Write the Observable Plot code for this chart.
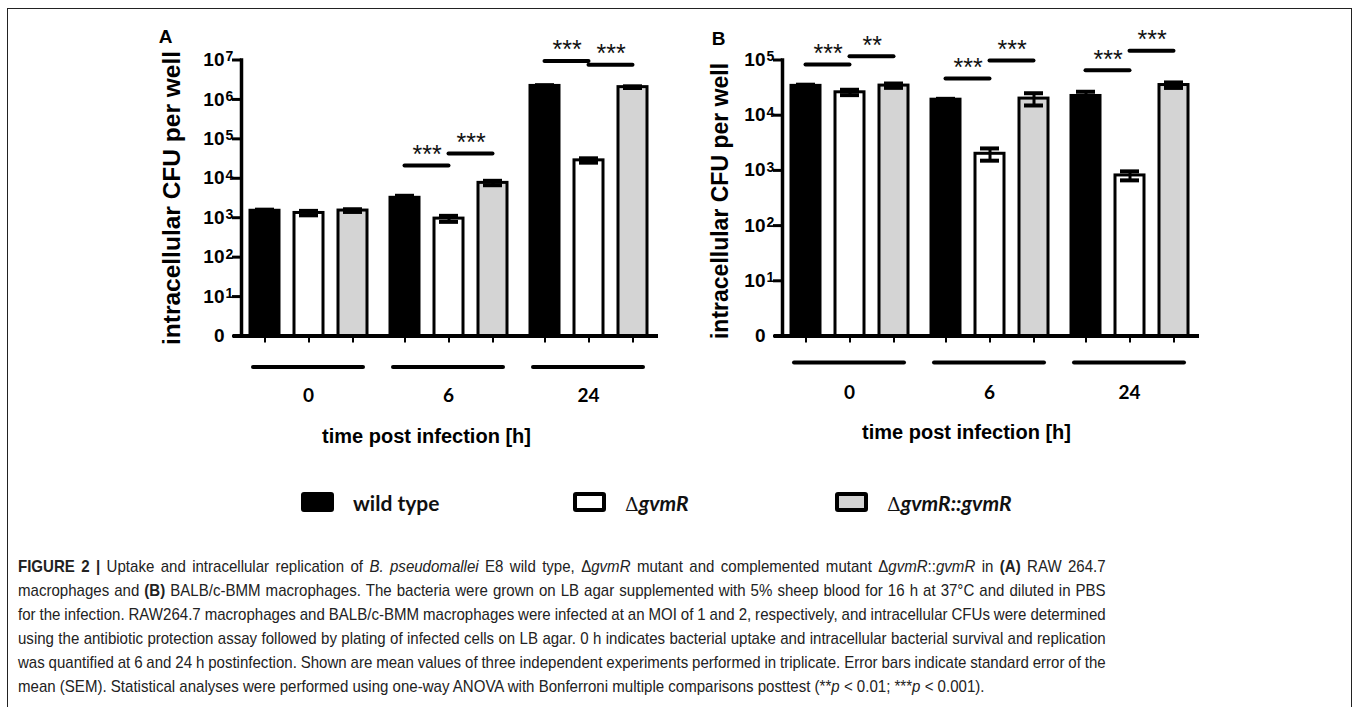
<!DOCTYPE html>
<html><head><meta charset="utf-8">
<script src="https://cdn.jsdelivr.net/npm/d3@7"></script>
<script src="https://cdn.jsdelivr.net/npm/@observablehq/plot@0.6"></script>
<style>
body{margin:0;background:#fff;}
#fig{position:relative;width:1357px;height:707px;overflow:hidden;background:#fff;}
#box{position:absolute;left:7px;top:8px;width:1343px;height:760px;border:1.5px solid #222;}
#plotA{position:absolute;left:120px;top:0;}
#plotB{position:absolute;left:690px;top:0;}
.leg{position:absolute;top:490px;height:24px;display:flex;align-items:center;font-family:Lato,"Open Sans",sans-serif;font-weight:700;font-size:21px;color:#111;white-space:nowrap;}
.sw{display:inline-block;width:25px;height:12px;border:4px solid #000;border-radius:3px;margin-right:19px;}
.leg .d{font-family:"DejaVu Serif",serif;font-weight:400;font-style:normal;font-size:19px;}
.leg i{font-style:italic;}
#caption{position:absolute;left:18px;top:555px;width:1229px;transform:scaleX(0.885);transform-origin:0 0;font-family:"Liberation Sans",Arial,sans-serif;font-size:17px;line-height:24px;color:#222;word-spacing:-1.5px;}
#caption div{text-align:justify;text-align-last:justify;white-space:nowrap;}
#caption div.last{text-align-last:left;word-spacing:0;}
</style></head>
<body>
<div id="fig">
  <div id="box"></div>
  <div id="plotA"></div>
  <div id="plotB"></div>
  <div id="legend"></div>
  <div id="caption">
    <div><b>FIGURE 2 |</b> Uptake and intracellular replication of <i>B. pseudomallei</i> E8 wild type, Δ<i>gvmR</i> mutant and complemented mutant Δ<i>gvmR</i>::<i>gvmR</i> in <b>(A)</b> RAW 264.7</div>
    <div>macrophages and <b>(B)</b> BALB/c-BMM macrophages. The bacteria were grown on LB agar supplemented with 5% sheep blood for 16 h at 37°C and diluted in PBS</div>
    <div>for the infection. RAW264.7 macrophages and BALB/c-BMM macrophages were infected at an MOI of 1 and 2, respectively, and intracellular CFUs were determined</div>
    <div>using the antibiotic protection assay followed by plating of infected cells on LB agar. 0 h indicates bacterial uptake and intracellular bacterial survival and replication</div>
    <div>was quantified at 6 and 24 h postinfection. Shown are mean values of three independent experiments performed in triplicate. Error bars indicate standard error of the</div>
    <div class="last">mean (SEM). Statistical analyses were performed using one-way ANOVA with Bonferroni multiple comparisons posttest (**<i>p</i> &lt; 0.01; ***<i>p</i> &lt; 0.001).</div>
  </div>
</div>
<script>
// ---------- data ----------
const times = ["0", "6", "24"];
const strains = ["wild type", "ΔgvmR", "ΔgvmR::gvmR"];
const fills = ["#000000", "#ffffff", "#d4d4d4"];

// Panel A: RAW 264.7 (means and SEM per time point 0, 6, 24 h)
const A_wt   = [1500, 3200, 2200000];
const A_mut  = [1320, 950, 28500];
const A_comp = [1520, 7650, 2050000];
const A_wt_sem   = [100, 400, 100000];
const A_mut_sem  = [170, 165, 3600];
const A_comp_sem = [120, 980, 100000];
const A_ticks = [1, 10, 1e2, 1e3, 1e4, 1e5, 1e6, 1e7];
const A_tickBase = ["0", "10", "10", "10", "10", "10", "10", "10"];
const A_tickExp  = ["", "1", "2", "3", "4", "5", "6", "7"];
const A_sigTime  = ["6", "6", "24", "24"];
const A_sigFrom  = [0, 1, 0, 1];
const A_sigY     = [21100, 42500, 9.5e6, 7.55e6];
const A_sigLabel = ["***", "***", "***", "***"];

// Panel B: BALB/c-BMM
const B_wt   = [34000, 19100, 22300];
const B_mut  = [26000, 2000, 810];
const B_comp = [34400, 20000, 35200];
const B_wt_sem   = [1700, 700, 4300];
const B_mut_sem  = [2900, 500, 150];
const B_comp_sem = [3100, 5000, 4000];
const B_ticks = [1, 10, 1e2, 1e3, 1e4, 1e5];
const B_tickBase = ["0", "10", "10", "10", "10", "10"];
const B_tickExp  = ["", "1", "2", "3", "4", "5"];
const B_sigTime  = ["0", "0", "6", "6", "24", "24"];
const B_sigFrom  = [0, 1, 0, 1, 0, 1];
const B_sigY     = [83000, 117000, 46300, 98000, 65000, 147000];
const B_sigLabel = ["***", "**", "***", "***", "***", "***"];

const xTitle = "time post infection [h]";
const yTitle = "intracellular CFU per well";
const legendLabels = [
  'wild type',
  '<span class="d">Δ</span><i>gvmR</i>',
  '<span class="d">Δ</span><i>gvmR::gvmR</i>'
];

// ---------- drawing ----------
const SANS = "Liberation Sans, Arial, sans-serif";
function panel(o) {
  const rows = [];
  times.forEach((t, ti) => strains.forEach((s, si) =>
    rows.push({time: t, strain: s, value: o.means[si][ti], sem: o.sems[si][ti]})));
  const sig = o.sigTime.map((t, i) => ({time: t, from: o.sigFrom[i], y: o.sigY[i], label: o.sigLabel[i]}));
  const idx = v => o.ticks.indexOf(v);
  return Plot.plot({
    width: o.width, height: 450,
    marginLeft: o.marginLeft, marginRight: o.marginRight, marginTop: 59.5, marginBottom: 114.5,
    style: {background: "transparent", overflow: "visible", color: "#000", fontFamily: SANS},
    fx: {domain: times, padding: 0, axis: null},
    x: {domain: strains, paddingInner: 0.345, paddingOuter: 0.249, axis: null},
    y: {type: "log", domain: [1, o.ymax], axis: null},
    color: {domain: strains, range: fills},
    marks: [
      Plot.barY(rows, {fx: "time", x: "strain", y1: 1, y2: "value", fill: "strain", stroke: "#000", strokeWidth: 3}),
      Plot.ruleX(rows, {fx: "time", x: "strain", y1: d => d.value - d.sem, y2: d => d.value + d.sem, stroke: "#000", strokeWidth: 3}),
      Plot.tickY(rows, {fx: "time", x: "strain", y: d => d.value + d.sem, stroke: "#000", strokeWidth: 4, insetLeft: 5, insetRight: 5}),
      Plot.tickY(rows, {fx: "time", x: "strain", y: d => d.value - d.sem, stroke: "#000", strokeWidth: 4, insetLeft: 5, insetRight: 5}),
      Plot.ruleY([1], {stroke: "#000", strokeWidth: 4, insetLeft: -5}),
      Plot.axisX({tickSize: 7, strokeWidth: 2, tickFormat: () => "", label: null}),
      Plot.frame({anchor: "left", facetAnchor: "left", stroke: "#000", strokeWidth: 3.5, dx: 3}),
      Plot.axisY({ticks: o.ticks, tickFormat: v => o.tickBase[idx(v)], tickSize: 9, tickPadding: 8, strokeWidth: 3,
                  dx: 3, fontSize: 19, fontWeight: "bold", fontFamily: SANS, label: null}),
      Plot.axisY({ticks: o.ticks, tickFormat: v => o.tickExp[idx(v)], tickSize: 0, tickPadding: 16, textAnchor: "start",
                  dx: 3, dy: -3, fontSize: 14, fontWeight: "bold", fontFamily: SANS, label: null}),
      // significance brackets
      Plot.ruleY(sig, {fx: "time", x1: d => strains[d.from], x2: d => strains[d.from + 1], y: "y",
                       stroke: "#000", strokeWidth: 4, strokeLinecap: "round", insetLeft: 14.5, insetRight: 14.5}),
      Plot.text(sig, {fx: "time", x: d => strains[d.from], y: "y", text: "label", dx: 22.2, dy: -2.5,
                      lineAnchor: "bottom", fontSize: 25, fontFamily: SANS, fill: "#111"}),
      // group underlines and labels
      Plot.ruleY(times, {fx: d => d, y: () => 1, dy: o.groupDy, stroke: "#000", strokeWidth: 4,
                         strokeLinecap: "round", insetLeft: 15, insetRight: 15}),
      Plot.text(times, {fx: d => d, y: () => 1, text: d => d, dy: o.labelDy, fontFamily: "Lato, Open Sans, sans-serif",
                        fontWeight: "bold", fontSize: 19}),
      Plot.text([xTitle], {fx: () => "6", y: () => 1, text: d => d, dx: o.titleDx, dy: o.titleDy,
                           fontWeight: "bold", fontSize: 20, fontFamily: SANS}),
      Plot.text([yTitle], {fx: () => "0", frameAnchor: "left", text: d => d, rotate: -90, dx: o.yTitleDx, dy: o.yTitleDy,
                           textAnchor: "middle", lineAnchor: "middle",
                           fontWeight: "bold", fontSize: o.yTitleSize, fontFamily: SANS}),
      Plot.text([o.letter], {fx: () => "0", frameAnchor: "top-left", text: d => d, dx: o.letterDx, dy: o.letterDy,
                             textAnchor: "middle", lineAnchor: "middle",
                             fontWeight: "bold", fontSize: 19, fontFamily: SANS})
    ]
  });
}

document.getElementById("plotA").append(panel({
  letter: "A", means: [A_wt, A_mut, A_comp], sems: [A_wt_sem, A_mut_sem, A_comp_sem],
  sigTime: A_sigTime, sigFrom: A_sigFrom, sigY: A_sigY, sigLabel: A_sigLabel,
  ticks: A_ticks, tickBase: A_tickBase, tickExp: A_tickExp, ymax: 1e7,
  width: 560, marginLeft: 118, marginRight: 22,
  groupDy: 31, labelDy: 60, titleDx: -22, titleDy: 101, yTitleDx: -66, yTitleDy: 0, yTitleSize: 24.5,
  letterDx: -73, letterDy: -23
}));
document.getElementById("plotB").append(panel({
  letter: "B", means: [B_wt, B_mut, B_comp], sems: [B_wt_sem, B_mut_sem, B_comp_sem],
  sigTime: B_sigTime, sigFrom: B_sigFrom, sigY: B_sigY, sigLabel: B_sigLabel,
  ticks: B_ticks, tickBase: B_tickBase, tickExp: B_tickExp, ymax: 1e5,
  width: 520, marginLeft: 89, marginRight: 11,
  groupDy: 26.5, labelDy: 57, titleDx: -23, titleDy: 97, yTitleDx: -59, yTitleDy: 3, yTitleSize: 23,
  letterDx: -61, letterDy: -21
}));

// legend
const legX = [301, 573, 835];
const legend = document.getElementById("legend");
strains.forEach((s, i) => {
  const d = document.createElement("div");
  d.className = "leg";
  d.style.left = legX[i] + "px";
  d.innerHTML = `<span class="sw" style="background:${fills[i]}"></span><span>${legendLabels[i]}</span>`;
  legend.append(d);
});
</script>
</body></html>
